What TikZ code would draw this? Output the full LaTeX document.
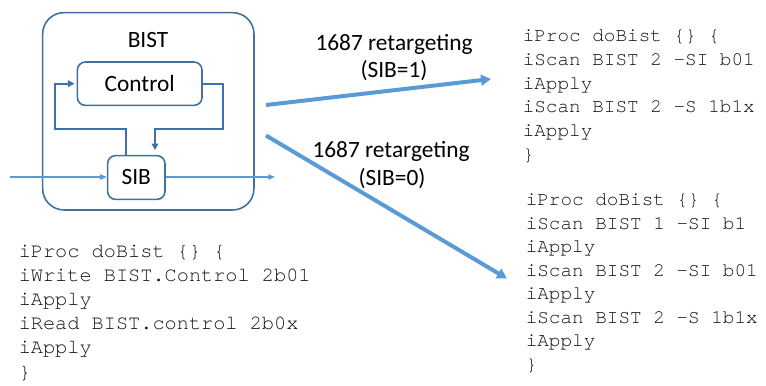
\documentclass[tikz,border=0pt]{standalone}
\usepackage{fontspec}
\setmainfont{Carlito}
\newfontfamily\codefont{TeX Gyre Cursor}
\usetikzlibrary{arrows.meta,calc}
\definecolor{boxblue}{HTML}{41719C}
\definecolor{fbblue}{HTML}{3D72AF}
\definecolor{lightblue}{HTML}{5B9BD5}
\definecolor{codegray}{HTML}{111111}
\begin{document}
\begin{tikzpicture}[x=0.75pt,y=-0.75pt,
  lbl/.style={font=\fontsize{17.5}{20}\selectfont, inner sep=0pt},
  blk/.style={draw=boxblue, line width=1.2pt, rounded corners=6pt, inner sep=0pt},
  codeL/.style={font=\codefont\fontsize{15.2}{18}\selectfont, text=codegray, anchor=base west, inner sep=0pt},
  codeR/.style={font=\codefont\fontsize{14.5}{17.5}\selectfont, text=codegray, anchor=base west, inner sep=0pt},
  fb/.style={draw=fbblue, line width=1.4pt, -{Triangle[length=5pt,width=5pt]}},
  sig/.style={draw=lightblue, line width=0.8pt, -{Triangle[length=5pt,width=4pt]}},
  big/.style={draw=lightblue, line width=3pt, -{Triangle[length=7.5pt,width=8pt]}}]
\useasboundingbox (0,0) rectangle (766,385);

% outer BIST block
\node[draw=boxblue, line width=1.2pt, rounded corners=16pt, minimum width=158.5pt, minimum height=148pt] (bist) at (148.3,111.3) {};
\node[lbl] (bistlabel) at (148,40.5) {BIST};
\node[blk, minimum width=93.5pt, minimum height=32.5pt] (ctrl) at (139.7,83.7) {};
\node[lbl] (ctrllabel) at (ctrl.center) {Control};
\node[blk, minimum width=43pt, minimum height=32.8pt] (sib) at (136.3,177.5) {};
\node[lbl] (siblabel) at (sib.center) {SIB};

% feedback paths
\coordinate (fbL) at (125.7,129);
\coordinate (fbLL) at (55,129);
\coordinate (fbR) at (223,129);
\coordinate (fbRR) at (155,129);
\draw[fb, shorten >=1.5pt] (sib.north -| fbL) -- (fbL) -- (fbLL) |- (ctrl.west);
\draw[fb, shorten >=3.5pt] (ctrl.east) -| (fbR) -- (fbRR) -- (sib.north -| fbRR);

% scan path
\coordinate (sin) at (10,177);
\coordinate (sout) at (275,177);
\draw[sig] (sin) -- (sib.west |- sin);
\draw[sig] (sib.east |- sout) -- (sout);

% retargeting arrows
\coordinate (a1s) at (266,105);
\coordinate (a1e) at (491,79);
\coordinate (a2s) at (266,135.5);
\coordinate (a2e) at (507,278.5);
\draw[big] (a1s) -- (a1e);
\draw[big] (a2s) -- (a2e);
\node[lbl, anchor=base] (r1a) at (394,50.3) {1687 retargeting};
\node[lbl, anchor=base] (r1b) at (394,78) {(SIB=1)};
\node[lbl, anchor=base] (r2a) at (391,157.3) {1687 retargeting};
\node[lbl, anchor=base] (r2b) at (392,185) {(SIB=0)};

% left code
\node[codeL] (l1) at (18.5,257.5) {iProc doBist \{\} \{};
\node[codeL] (l2) at (18.5,281.6) {iWrite BIST.Control 2b01};
\node[codeL] (l3) at (18.5,305.7) {iApply};
\node[codeL] (l4) at (18.5,329.8) {iRead BIST.control 2b0x};
\node[codeL] (l5) at (18.5,353.9) {iApply};
\node[codeL] (l6) at (18.5,378) {\}};

% right top code
\node[codeR] (t1) at (522.5,42) {iProc doBist \{\} \{};
\node[codeR] (t2) at (522.5,65.6) {iScan BIST 2 -SI b01};
\node[codeR] (t3) at (522.5,89.2) {iApply};
\node[codeR] (t4) at (522.5,112.8) {iScan BIST 2 -S 1b1x};
\node[codeR] (t5) at (522.5,136.4) {iApply};
\node[codeR] (t6) at (522.5,160) {\}};

% right bottom code
\node[codeR] (b1) at (525.5,205.5) {iProc doBist \{\} \{};
\node[codeR] (b2) at (525.5,229) {iScan BIST 1 -SI b1};
\node[codeR] (b3) at (525.5,252.5) {iApply};
\node[codeR] (b4) at (525.5,276) {iScan BIST 2 -SI b01};
\node[codeR] (b5) at (525.5,299.5) {iApply};
\node[codeR] (b6) at (525.5,323) {iScan BIST 2 -S 1b1x};
\node[codeR] (b7) at (525.5,346.5) {iApply};
\node[codeR] (b8) at (525.5,370) {\}};
\end{tikzpicture}
\end{document}
